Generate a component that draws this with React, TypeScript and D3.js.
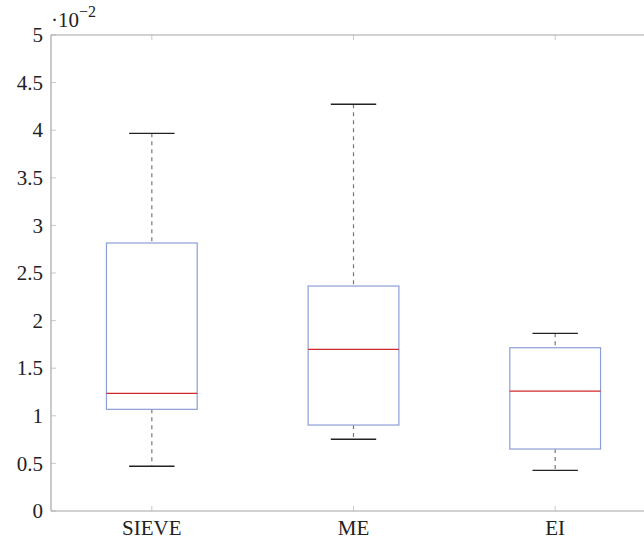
import React, { useEffect } from 'react';
import * as d3 from 'd3';

// values in units of 10^-2
const categories = ['SIEVE', 'ME', 'EI'];
const lowerWhisker = [0.47, 0.753, 0.427];
const lowerQuartile = [1.068, 0.903, 0.651];
const medians = [1.236, 1.698, 1.26];
const upperQuartile = [2.815, 2.363, 1.715];
const upperWhisker = [3.967, 4.272, 1.866];
const yTicks = [0, 0.5, 1, 1.5, 2, 2.5, 3, 3.5, 4, 4.5, 5];

const W = 644;
const H = 539;
const margin = { top: 35, left: 51, bottom: 28, right: 0 };

const FONT = "'Liberation Serif', 'Times New Roman', Tinos, 'DejaVu Serif', serif";
const AXIS = '#a6a6a6';
const BOX = '#8c9ed6';
const MED = '#d02828';
const textStyle = { fontFamily: FONT } as React.CSSProperties;

export default function App() {
  useEffect(() => {
    document.body.style.margin = '0';
  }, []);

  const y = d3.scaleLinear().domain([0, 5]).range([H - margin.bottom, margin.top]);
  const x = d3.scaleLinear().domain([0.5, 3.5]).range([margin.left, 656]);
  const boxHalf = 0.225;
  const capHalf = 0.1125;
  const fmt = d3.format('~g');

  return (
    <svg width={W} height={H} style={{ display: 'block', background: '#fff' }}>
      {/* axis frame */}
      <line x1={margin.left} x2={W + 20} y1={y(5)} y2={y(5)} stroke={AXIS} strokeWidth={1.2} />
      <line x1={margin.left} x2={W + 20} y1={y(0)} y2={y(0)} stroke={AXIS} strokeWidth={1.2} />
      <line x1={margin.left} x2={margin.left} y1={y(5)} y2={y(0)} stroke={AXIS} strokeWidth={1.2} />

      {yTicks.map((t) => (
        <g key={t}>
          <line x1={margin.left} x2={margin.left + 5} y1={y(t)} y2={y(t)} stroke={AXIS} strokeWidth={0.6} />
          <text x={margin.left - 8} y={y(t)} dy="0.34em" textAnchor="end" style={textStyle} fontSize={21} fill="#222">
            {fmt(t)}
          </text>
        </g>
      ))}

      {categories.map((c, i) => (
        <g key={c}>
          <line x1={x(i + 1)} x2={x(i + 1)} y1={y(0)} y2={y(0) - 5} stroke={AXIS} strokeWidth={0.6} />
          <line x1={x(i + 1)} x2={x(i + 1)} y1={y(5)} y2={y(5) + 5} stroke={AXIS} strokeWidth={0.6} />
          <text x={x(i + 1)} y={y(0) + 24} textAnchor="middle" style={textStyle} fontSize={21} fill="#222">
            {c}
          </text>
        </g>
      ))}

      {/* multiplier */}
      <text x={margin.left} y={27} style={textStyle} fontSize={21} fill="#222">
        ·10<tspan dy={-10} fontSize={16}>−2</tspan>
      </text>

      {categories.map((c, i) => {
        const cx = x(i + 1);
        const bl = x(i + 1 - boxHalf);
        const br = x(i + 1 + boxHalf);
        return (
          <g key={'box' + c}>
            <line x1={cx} x2={cx} y1={y(upperWhisker[i])} y2={y(upperQuartile[i])} stroke="#777" strokeWidth={1.2} strokeDasharray="4 4" />
            <line x1={cx} x2={cx} y1={y(lowerQuartile[i])} y2={y(lowerWhisker[i])} stroke="#777" strokeWidth={1.2} strokeDasharray="4 4" />
            <line x1={x(i + 1 - capHalf)} x2={x(i + 1 + capHalf)} y1={y(upperWhisker[i])} y2={y(upperWhisker[i])} stroke="#222" strokeWidth={1.4} />
            <line x1={x(i + 1 - capHalf)} x2={x(i + 1 + capHalf)} y1={y(lowerWhisker[i])} y2={y(lowerWhisker[i])} stroke="#222" strokeWidth={1.4} />
            <rect x={bl} y={y(upperQuartile[i])} width={br - bl} height={y(lowerQuartile[i]) - y(upperQuartile[i])} fill="#fff" stroke={BOX} strokeWidth={1.2} />
            <line x1={bl} x2={br} y1={y(medians[i])} y2={y(medians[i])} stroke={MED} strokeWidth={1.2} />
          </g>
        );
      })}
    </svg>
  );
}
